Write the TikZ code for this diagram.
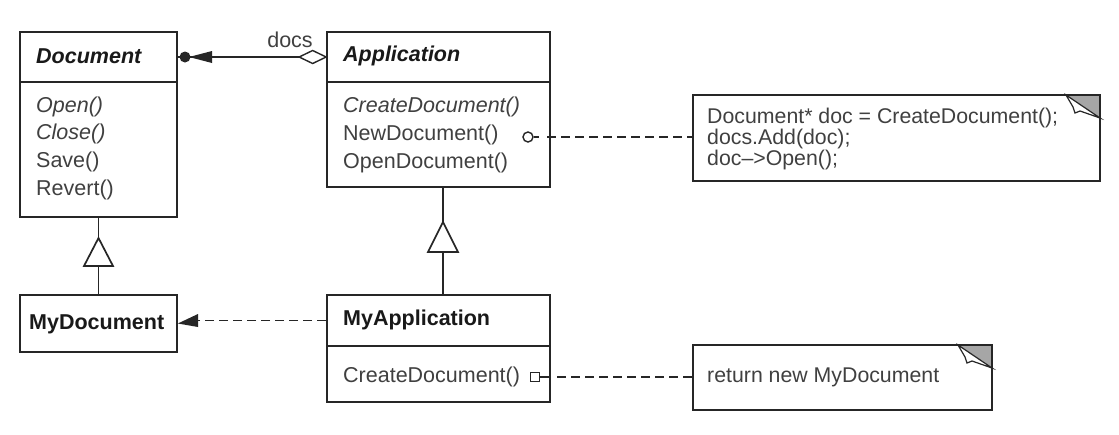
\documentclass[tikz,border=0pt]{standalone}
\usepackage{fontspec}
\setmainfont{Liberation Sans}
\begin{document}
\begin{tikzpicture}[x=1pt,y=-1pt,
  ln/.style={draw=black!85, line width=1.7pt},
  box/.style={ln, rectangle, inner sep=0pt, fill=white},
  txt/.style={anchor=west, inner sep=0pt, text=black!75, font=\fontsize{21.5}{23}\selectfont},
  hdr/.style={anchor=west, inner sep=0pt, text=black!90, font=\fontsize{21.5}{23}\selectfont\bfseries},
  ntxt/.style={anchor=west, inner sep=0pt, text=black!75, align=left, font=\fontsize{21.3}{21}\selectfont},
  dsh/.style={ln, line width=1.6pt, dash pattern=on 9pt off 5pt},
  fold/.style={draw=black!85, line width=1.2pt}
]
\useasboundingbox (0,0) rectangle (1119,434);
\fill[white] (0,0) rectangle (1119,434);

% Document
\node[box, minimum width=157pt, minimum height=50pt] (docH) at (98.5,57) {};
\node[box, minimum width=157pt, minimum height=135pt] (docB) at (98.5,149.5) {};
\node[hdr, font=\fontsize{21.5}{23}\selectfont\bfseries\itshape] (docT) at (36,56) {Document};
\node[txt, font=\fontsize{21.5}{23}\selectfont\itshape] (d1) at (36,107) {Open()};
\node[txt, font=\fontsize{21.5}{23}\selectfont\itshape] (d2) at (36,134) {Close()};
\node[txt] (d3) at (36,162) {Save()};
\node[txt] (d4) at (36,190) {Revert()};

% Application
\node[box, minimum width=223pt, minimum height=50pt] (appH) at (438.5,57) {};
\node[box, minimum width=223pt, minimum height=105pt] (appB) at (438.5,134.5) {};
\node[hdr, font=\fontsize{21.5}{23}\selectfont\bfseries\itshape] (appT) at (343,56) {Application};
\node[txt, font=\fontsize{21.5}{23}\selectfont\itshape] (a1) at (343,107) {CreateDocument()};
\node[txt] (a2) at (343,135) {NewDocument()};
\node[txt] (a3) at (343,163) {OpenDocument()};

% MyDocument
\node[box, minimum width=157pt, minimum height=57pt] (mydoc) at (98.5,323.5) {};
\node[hdr] (mydocT) at (29,324) {MyDocument};

% MyApplication
\node[box, minimum width=223pt, minimum height=51pt] (myappH) at (438.5,320.5) {};
\node[box, minimum width=223pt, minimum height=56pt] (myappB) at (438.5,374) {};
\node[hdr] (myappT) at (343,320) {MyApplication};
\node[txt] (m1) at (343,377) {CreateDocument()};

% Notes
\node[box, minimum width=407pt, minimum height=86pt] (note1) at (896.5,138) {};
\fill[black!35] (1066,95) -- (1100,95) -- (1100,118) -- cycle;
\draw[fold, fill=white] (1066,95) -- (1073,107) -- (1075,113) -- (1080,111) -- (1100,118) -- cycle;
\draw[ln] (1066,95) -- (1100,95) -- (1100,118);
\node[ntxt] (n1) at (707,139) {Document* doc = CreateDocument();\\docs.Add(doc);\\doc--{}>Open();};

\node[box, minimum width=299pt, minimum height=65pt] (note2) at (842.5,377.5) {};
\fill[black!35] (958,345) -- (992,345) -- (992,368) -- cycle;
\draw[fold, fill=white] (958,345) -- (965,357) -- (967,363) -- (972,361) -- (992,368) -- cycle;
\draw[ln] (958,345) -- (992,345) -- (992,368);
\node[ntxt] (n2) at (707,377) {return new MyDocument};

% docs association
\node[inner sep=0pt, text=black!75, font=\fontsize{21.5}{23}\selectfont] (docsL) at (290,40) {docs};
\coordinate (dia) at (300,57);
\draw[ln] (docH.east) -- (dia);
\draw[ln, fill=white, line width=1.4pt] (appH.west) -- ++(-13.5,-6.5) -- ++(-13.5,6.5) -- ++(13.5,6.5) -- cycle;
\fill[black!85] (185,57) circle (5.5pt);
\fill[black!85] (189,57) -- (212,51) -- (212,63) -- cycle;

% generalization Document <- MyDocument
\coordinate (t1a) at (98.5,238);
\coordinate (t1b) at (98.5,266);
\draw[ln] (docB.south) -- (t1a);
\draw[ln, fill=white, line join=miter] (t1a) -- ++(14.5,28) -- ++(-29,0) -- cycle;
\draw[ln] (t1b) -- (mydoc.north);

% generalization Application <- MyApplication
\coordinate (t2a) at (443,222);
\coordinate (t2b) at (443,252);
\draw[ln] (appB.south -| t2a) -- (t2a);
\draw[ln, fill=white] (t2a) -- ++(15,30) -- ++(-30,0) -- cycle;
\draw[ln] (t2b) -- (myappH.north -| t2b);

% MyApplication - - -> MyDocument
\draw[dsh] (myappH.west) -- (198,320.5);
\fill[black!85] (mydoc.east) -- (198,314) -- (198,327) -- cycle;

% note connectors
\node[circle, draw=black!85, line width=1.4pt, inner sep=0pt, minimum size=10pt] (c1) at (528,137) {};
\draw[ln] (c1.east) -- (539,137);
\draw[dsh] (547,137) -- (note1.west |- c1);
\node[rectangle, draw=black!85, line width=1.4pt, inner sep=0pt, minimum size=9pt] (s1) at (535,377) {};
\draw[ln] (s1.east) -- (549,377);
\draw[dsh] (557,377) -- (note2.west |- s1);
\end{tikzpicture}
\end{document}
